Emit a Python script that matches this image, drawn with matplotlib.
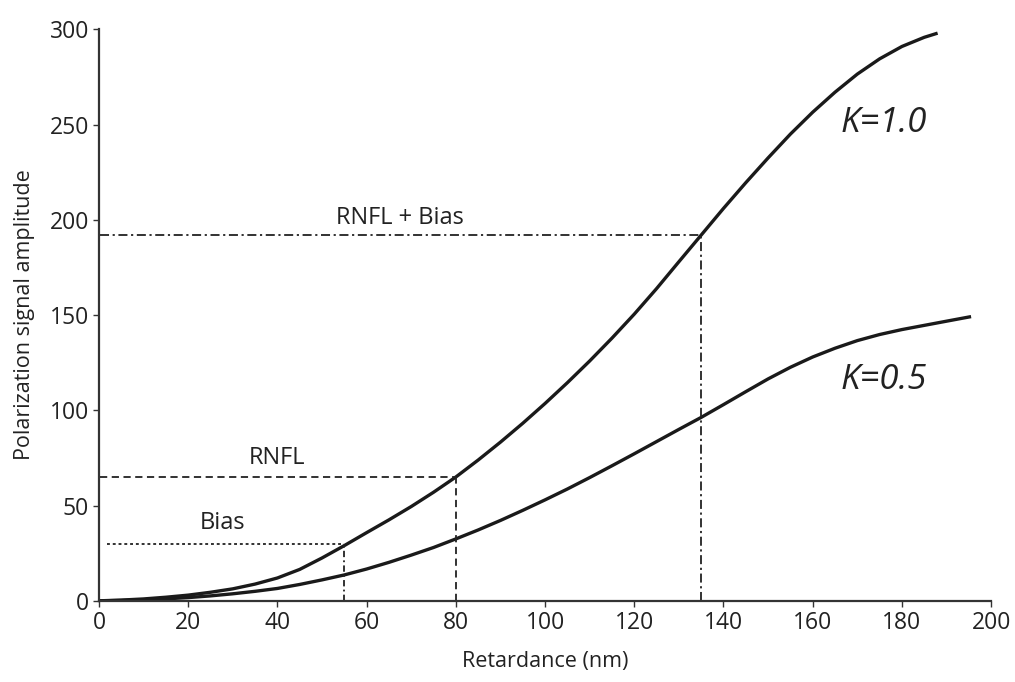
import numpy as np
import matplotlib.pyplot as plt

plt.rcParams['font.family'] = ['Open Sans', 'DejaVu Sans']

# Signal amplitude vs retardance for two K values
ret_k1 = [0, 5, 10, 15, 20, 25, 30, 35, 40, 45, 50, 55, 60, 65, 70, 75, 80, 85, 90, 95,
          100, 105, 110, 115, 120, 125, 130, 135, 140, 145, 150, 155, 160, 165, 170, 175,
          180, 185, 188]
amp_k1 = [0, 0.4, 1.0, 1.9, 3.0, 4.5, 6.3, 8.8, 12, 16.5, 22.5, 29, 35.8, 42.5, 49.5, 57, 65,
          73.9, 83.3, 93.2, 103.6, 114.5, 125.9, 137.9, 150.5, 163.9, 178, 192, 206, 219.5,
          232.5, 245, 256.5, 267, 276.5, 284.5, 291, 295.8, 298]

ret_k05 = [0, 5, 10, 15, 20, 25, 30, 35, 40, 45, 50, 55, 60, 65, 70, 75, 80, 85, 90, 95,
           100, 105, 110, 115, 120, 125, 130, 135, 140, 145, 150, 155, 160, 165, 170, 175,
           180, 185, 190, 195.5]
amp_k05 = [0, 0.2, 0.55, 1.05, 1.7, 2.6, 3.7, 5, 6.5, 8.6, 11, 13.6, 16.7, 20.2, 24, 28, 32.5,
           37.2, 42.2, 47.5, 53, 58.7, 64.7, 70.9, 77.2, 83.6, 90, 96.3, 103, 109.8, 116.5,
           122.6, 128, 132.6, 136.6, 139.8, 142.4, 144.6, 146.8, 149.2]

# reference levels: (retardance, amplitude)
bias = (55, 30)
rnfl = (80, 65)
rnfl_bias = (135, 192)

fig = plt.figure(figsize=(10.15, 6.82), dpi=100)
ax = fig.add_axes([0.0975, 0.119, 0.879, 0.838])

ax.plot(ret_k1, amp_k1, color='#1a1a1a', lw=2.4, solid_capstyle='butt')
ax.plot(ret_k05, amp_k05, color='#1a1a1a', lw=2.4, solid_capstyle='butt')

# Bias
ax.plot([1.8, bias[0]], [bias[1], bias[1]], color='#222222', lw=1.3, ls=(0, (1.6, 1.6)))
ax.plot([bias[0], bias[0]], [0, bias[1]], color='#222222', lw=1.3, ls=(0, (3.5, 1.8, 1, 1.8)))
# RNFL
ax.plot([0.3, rnfl[0]], [rnfl[1], rnfl[1]], color='#222222', lw=1.3, ls=(0, (4, 2.5)))
ax.plot([rnfl[0], rnfl[0]], [0, rnfl[1]], color='#222222', lw=1.3, ls=(0, (4, 2.5)))
# RNFL + Bias
ax.plot([0.3, rnfl_bias[0]], [rnfl_bias[1], rnfl_bias[1]], color='#222222', lw=1.3,
        ls=(0, (5, 2, 1.2, 2)))
ax.plot([rnfl_bias[0], rnfl_bias[0]], [0, rnfl_bias[1]], color='#222222', lw=1.3,
        ls=(0, (5, 2, 1.2, 2)))

ax.text(67.4, 201, 'RNFL + Bias', fontsize=17, ha='center', va='center', color='#222222')
ax.text(40, 75, 'RNFL', fontsize=17, ha='center', va='center', color='#222222')
ax.text(27.6, 41, 'Bias', fontsize=17, ha='center', va='center', color='#222222')
ax.text(176, 251, 'K=1.0', fontsize=25, style='italic', ha='center', va='center', color='#222222')
ax.text(176, 116, 'K=0.5', fontsize=25, style='italic', ha='center', va='center', color='#222222')

ax.set_xlim(0, 200)
ax.set_ylim(0, 300)
ax.set_xticks(np.arange(0, 201, 20))
ax.set_yticks(np.arange(0, 301, 50))
for s in ['top', 'right']:
    ax.spines[s].set_visible(False)
for s in ['left', 'bottom']:
    ax.spines[s].set_linewidth(1.6)
    ax.spines[s].set_color('#333333')
ax.tick_params(direction='out', length=4, width=1, colors='#333333', labelsize=16.5,
               labelcolor='#222222', pad=3)

ax.set_xlabel('Retardance (nm)', fontsize=15.5, color='#222222', labelpad=12)
ax.set_ylabel('Polarization signal amplitude', fontsize=15.5, color='#222222', labelpad=11)

fig.savefig('out.png', dpi=100)
